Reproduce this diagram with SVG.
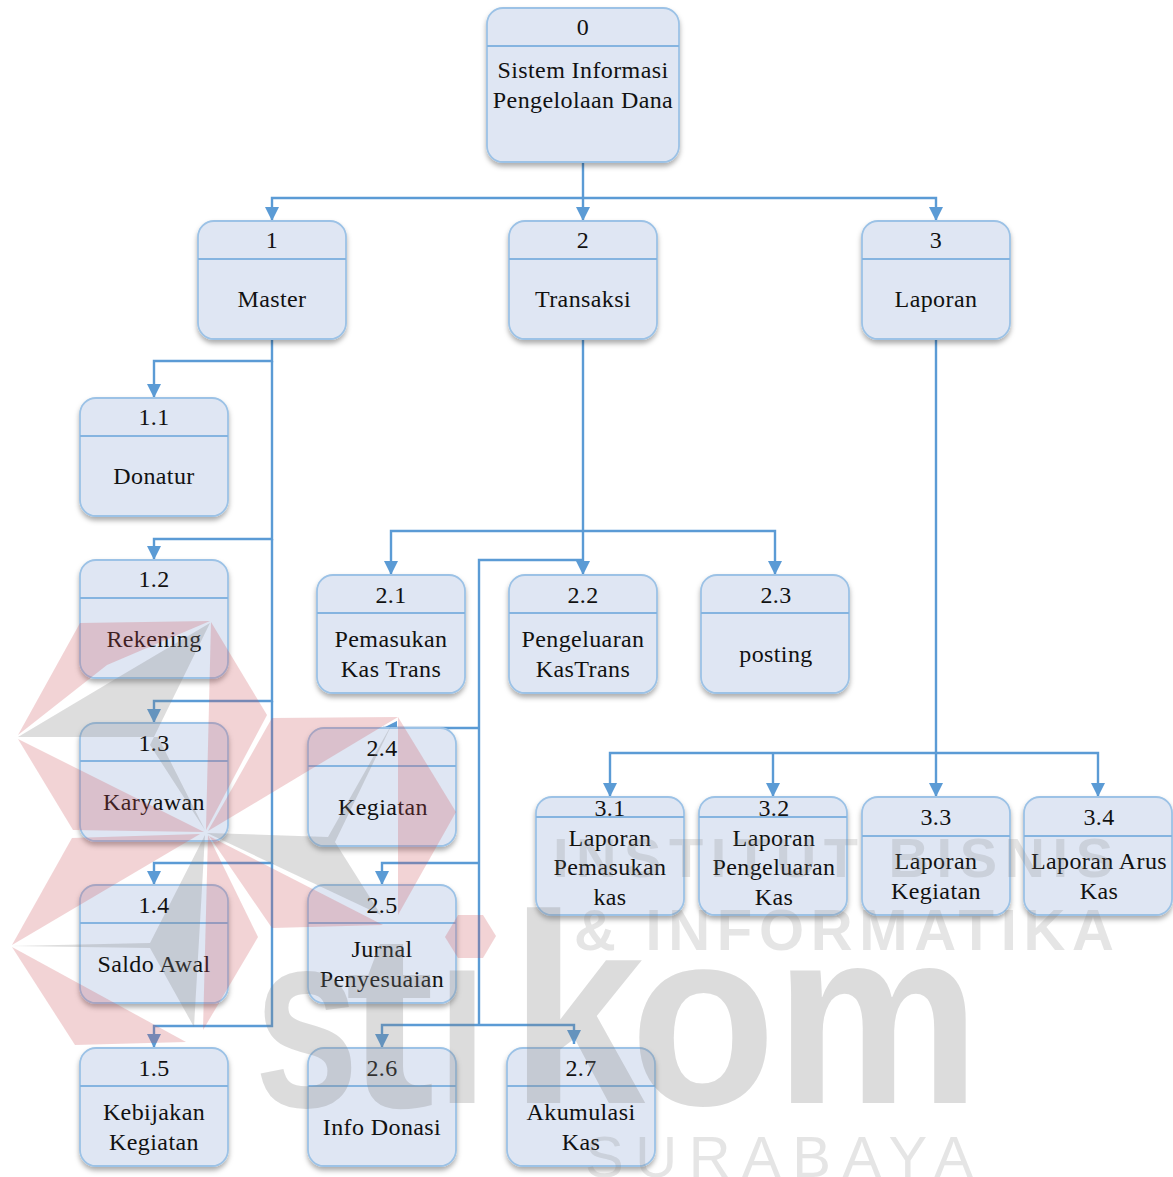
<svg xmlns="http://www.w3.org/2000/svg" width="1173" height="1177" viewBox="0 0 1173 1177">
<style>
text{font-family:"Liberation Serif","Times New Roman",serif;font-size:24px;fill:#111;text-anchor:middle;letter-spacing:.4px}
.b{fill:#dfe6f3;stroke:#9cc2e6;stroke-width:1.8;filter:url(#sh)}
.d{stroke:#85b4e0;stroke-width:1.8}
.c{fill:none;stroke:#5b9bd5;stroke-width:2.4}
.a{marker-end:url(#ah)}
.r{fill:#cc5058;opacity:.25}
.g{fill:#808080;opacity:.27}
text.w{font-family:"Liberation Sans",Arial,sans-serif;fill:#808080;opacity:.27;font-weight:700;text-anchor:start;letter-spacing:0}
text.l{opacity:.2}
</style>
<defs>
<filter id="sh" x="-10%" y="-10%" width="120%" height="125%"><feDropShadow dx="0" dy="3.5" stdDeviation="2.5" flood-color="#000" flood-opacity=".32"/></filter>
<marker id="ah" markerUnits="userSpaceOnUse" markerWidth="16" markerHeight="16" refX="14" refY="7" orient="auto"><path d="M0 0L14 7L0 14Z" fill="#5b9bd5"/></marker>
</defs>
<rect width="1173" height="1177" fill="#fff"/>
<g id="connectors">
<path class="c a" d="M583 162V221"/>
<path class="c a" d="M583 198H272V221"/>
<path class="c a" d="M583 198H936V221"/>
<path class="c a" d="M272 339V361H154V398"/>
<path class="c a" d="M272 361V539H154V560"/>
<path class="c a" d="M272 539V701H154V723"/>
<path class="c a" d="M272 701V863H154V885"/>
<path class="c a" d="M272 863V1026H154V1048"/>
<path class="c a" d="M583 339V575"/>
<path class="c a" d="M583 531H391V575"/>
<path class="c a" d="M583 531H775V575"/>
<path class="c" d="M583 560H479V1025"/>
<path class="c a" d="M479 728H383"/>
<path class="c a" d="M479 863H382V885"/>
<path class="c a" d="M479 1025H382V1048"/>
<path class="c a" d="M479 1025H574V1044"/>
<path class="c a" d="M936 339V797"/>
<path class="c a" d="M936 753H610V797"/>
<path class="c a" d="M773 753V797"/>
<path class="c a" d="M936 753H1098V797"/>
</g>
<g id="n0"><rect class="b" x="487" y="8" width="192" height="154" rx="16"/><line class="d" x1="487" y1="46" x2="679" y2="46"/><text x="583" y="35">0</text><text x="583" y="78">Sistem Informasi</text><text x="583" y="108">Pengelolaan Dana</text></g>
<g id="n1"><rect class="b" x="198" y="221" width="148" height="118" rx="16"/><line class="d" x1="198" y1="259" x2="346" y2="259"/><text x="272" y="248">1</text><text x="272" y="307">Master</text></g>
<g id="n2"><rect class="b" x="509" y="221" width="148" height="118" rx="16"/><line class="d" x1="509" y1="259" x2="657" y2="259"/><text x="583" y="248">2</text><text x="583" y="307">Transaksi</text></g>
<g id="n3"><rect class="b" x="862" y="221" width="148" height="118" rx="16"/><line class="d" x1="862" y1="259" x2="1010" y2="259"/><text x="936" y="248">3</text><text x="936" y="307">Laporan</text></g>
<g id="n1-1"><rect class="b" x="80" y="398" width="148" height="118" rx="16"/><line class="d" x1="80" y1="436" x2="228" y2="436"/><text x="154" y="425">1.1</text><text x="154" y="484">Donatur</text></g>
<g id="n1-2"><rect class="b" x="80" y="560" width="148" height="118" rx="16"/><line class="d" x1="80" y1="598" x2="228" y2="598"/><text x="154" y="587">1.2</text><text x="154" y="647">Rekening</text></g>
<g id="n1-3"><rect class="b" x="80" y="723" width="148" height="118" rx="16"/><line class="d" x1="80" y1="761" x2="228" y2="761"/><text x="154" y="751">1.3</text><text x="154" y="810">Karyawan</text></g>
<g id="n1-4"><rect class="b" x="80" y="885" width="148" height="118" rx="16"/><line class="d" x1="80" y1="923" x2="228" y2="923"/><text x="154" y="913">1.4</text><text x="154" y="972">Saldo Awal</text></g>
<g id="n1-5"><rect class="b" x="80" y="1048" width="148" height="118" rx="16"/><line class="d" x1="80" y1="1086" x2="228" y2="1086"/><text x="154" y="1076">1.5</text><text x="154" y="1120">Kebijakan</text><text x="154" y="1150">Kegiatan</text></g>
<g id="n2-1"><rect class="b" x="317" y="575" width="148" height="118" rx="16"/><line class="d" x1="317" y1="613" x2="465" y2="613"/><text x="391" y="603">2.1</text><text x="391" y="647">Pemasukan</text><text x="391" y="677">Kas Trans</text></g>
<g id="n2-2"><rect class="b" x="509" y="575" width="148" height="118" rx="16"/><line class="d" x1="509" y1="613" x2="657" y2="613"/><text x="583" y="603">2.2</text><text x="583" y="647">Pengeluaran</text><text x="583" y="677">KasTrans</text></g>
<g id="n2-3"><rect class="b" x="701" y="575" width="148" height="118" rx="16"/><line class="d" x1="701" y1="613" x2="849" y2="613"/><text x="776" y="603">2.3</text><text x="776" y="662">posting</text></g>
<g id="n2-4"><rect class="b" x="308" y="728" width="148" height="118" rx="16"/><line class="d" x1="308" y1="766" x2="456" y2="766"/><text x="382" y="756">2.4</text><text x="383" y="815">Kegiatan</text></g>
<g id="n2-5"><rect class="b" x="308" y="885" width="148" height="118" rx="16"/><line class="d" x1="308" y1="923" x2="456" y2="923"/><text x="382" y="913">2.5</text><text x="382" y="957">Jurnal</text><text x="382" y="987">Penyesuaian</text></g>
<g id="n2-6"><rect class="b" x="308" y="1048" width="148" height="118" rx="16"/><line class="d" x1="308" y1="1086" x2="456" y2="1086"/><text x="382" y="1076">2.6</text><text x="382" y="1135">Info Donasi</text></g>
<g id="n2-7"><rect class="b" x="507" y="1048" width="148" height="118" rx="16"/><line class="d" x1="507" y1="1086" x2="655" y2="1086"/><text x="581" y="1076">2.7</text><text x="581" y="1120">Akumulasi</text><text x="581" y="1150">Kas</text></g>
<g id="n3-1"><rect class="b" x="536" y="797" width="148" height="118" rx="16"/><line class="d" x1="536" y1="817" x2="684" y2="817"/><text x="610" y="816">3.1</text><text x="610" y="846">Laporan</text><text x="610" y="875">Pemasukan</text><text x="610" y="905">kas</text></g>
<g id="n3-2"><rect class="b" x="699" y="797" width="148" height="118" rx="16"/><line class="d" x1="699" y1="817" x2="847" y2="817"/><text x="774" y="816">3.2</text><text x="774" y="846">Laporan</text><text x="774" y="875">Pengeluaran</text><text x="774" y="905">Kas</text></g>
<g id="n3-3"><rect class="b" x="862" y="797" width="148" height="118" rx="16"/><line class="d" x1="862" y1="836" x2="1010" y2="836"/><text x="936" y="825">3.3</text><text x="936" y="869">Laporan</text><text x="936" y="899">Kegiatan</text></g>
<g id="n3-4"><rect class="b" x="1024" y="797" width="148" height="118" rx="16"/><line class="d" x1="1024" y1="836" x2="1172" y2="836"/><text x="1099" y="825">3.4</text><text x="1099" y="869">Laporan Arus</text><text x="1099" y="899">Kas</text></g>
<g id="watermark">
<polygon class="r" points="18,735 80,623 210,621 107,665"/>
<polygon class="g" points="18,737 112,681 210,623 150,745 205,830 158,737"/>
<polygon class="r" points="211,622 267,715 206,830"/>
<polygon class="r" points="18,739 204,832 73,830"/>
<polygon class="r" points="272,718 398,717 208,831"/>
<polygon class="r" points="398,717 456,812 398,915"/>
<polygon class="g" points="207,833 328,837 393,722 335,842 381,915"/>
<polygon class="r" points="209,836 383,925 272,928"/>
<polygon class="r" points="12,945 72,838 200,834"/>
<polygon class="g" points="12,946 150,943 205,835 194,1027 150,948"/>
<polygon class="r" points="208,835 258,937 203,1030"/>
<polygon class="r" points="12,947 186,1042 75,1045"/>
<polygon class="r" points="445,937 458,915 483,915 496,936 483,958 458,958"/>
<text class="w" x="254" y="1107" style="font-size:250px" textLength="105" lengthAdjust="spacingAndGlyphs">s</text>
<text class="w" x="345" y="1107" style="font-size:250px" textLength="90" lengthAdjust="spacingAndGlyphs">t</text>
<text class="w" x="437" y="1103" style="font-size:250px" textLength="50" lengthAdjust="spacingAndGlyphs">ı</text>
<text class="w" x="510" y="1103" style="font-size:270px" textLength="135" lengthAdjust="spacingAndGlyphs">k</text>
<text class="w" x="630" y="1105" style="font-size:250px" textLength="146" lengthAdjust="spacingAndGlyphs">o</text>
<text class="w" x="775" y="1103" style="font-size:250px" textLength="205" lengthAdjust="spacingAndGlyphs">m</text>
<text class="w l" x="553" y="877" style="font-size:56px" textLength="560" lengthAdjust="spacing">INSTITUT BISNIS</text>
<text class="w l" x="574" y="950" style="font-size:58px" textLength="540" lengthAdjust="spacing">&amp; INFORMATIKA</text>
<text class="w l" x="585" y="1177" style="font-size:58px;font-weight:400" textLength="388" lengthAdjust="spacing">SURABAYA</text>
</g>
</svg>
